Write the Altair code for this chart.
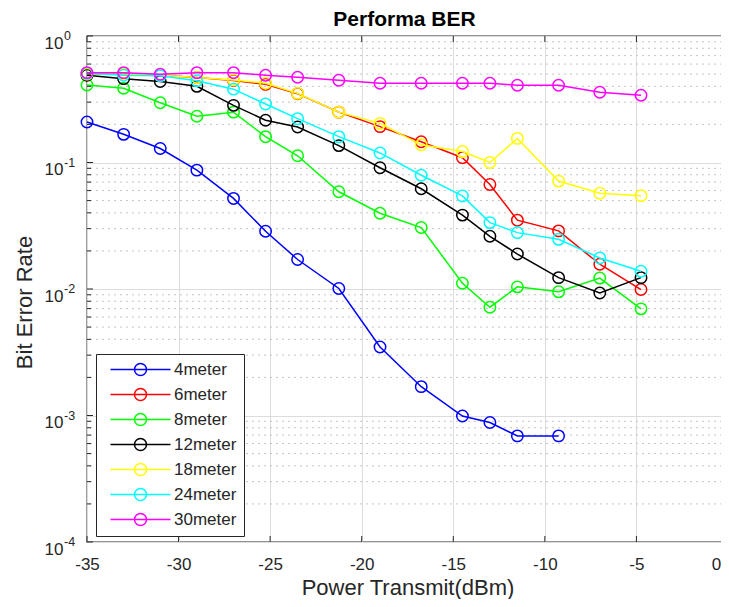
import altair as alt
import pandas as pd

# ---------------- data ----------------
chart_title = "Performa BER"
x_power = [-35, -33, -31, -29, -27, -25.25, -23.5, -21.25, -19, -16.75, -14.5, -13, -11.5, -9.25, -7, -4.75]

ber_4m = [0.209, 0.167, 0.129, 0.087, 0.052, 0.0286, 0.0171, 0.0101, 0.00348, 0.00169, 0.00099, 0.00088, 0.00069, 0.00069]
ber_6m = [0.50, 0.50, 0.49, 0.47, 0.445, 0.415, 0.35, 0.25, 0.192, 0.146, 0.109, 0.067, 0.035, 0.0288, 0.0157, 0.0099]
ber_8m = [0.41, 0.386, 0.297, 0.232, 0.250, 0.160, 0.113, 0.0587, 0.0397, 0.0306, 0.0111, 0.00718, 0.0104, 0.0095, 0.0122, 0.00697]
ber_12m = [0.49, 0.46, 0.437, 0.40, 0.283, 0.216, 0.191, 0.136, 0.0909, 0.062, 0.0384, 0.0261, 0.0189, 0.0123, 0.0093, 0.0123]
ber_18m = [0.50, 0.50, 0.49, 0.47, 0.449, 0.423, 0.352, 0.25, 0.204, 0.138, 0.122, 0.100, 0.155, 0.0713, 0.0571, 0.0547]
ber_24m = [0.507, 0.49, 0.486, 0.443, 0.380, 0.290, 0.222, 0.160, 0.119, 0.0793, 0.0544, 0.0335, 0.0279, 0.0247, 0.0176, 0.0138]
ber_30m = [0.513, 0.513, 0.498, 0.513, 0.513, 0.489, 0.472, 0.447, 0.423, 0.423, 0.423, 0.423, 0.408, 0.408, 0.359, 0.340]

series_names = ["4meter", "6meter", "8meter", "12meter", "18meter", "24meter", "30meter"]
series_values = [ber_4m, ber_6m, ber_8m, ber_12m, ber_18m, ber_24m, ber_30m]
series_colors = ["#0000ff", "#ff0000", "#00ff00", "#000000", "#ffff00", "#00ffff", "#ff00ff"]

x_ticks = [-35, -30, -25, -20, -15, -10, -5, 0]
y_major = [1e-4, 1e-3, 1e-2, 1e-1, 1.0]
y_exponents = ["-4", "-3", "-2", "-1", "0"]
y_minor = [m * 10.0 ** k for k in range(-4, 0) for m in range(2, 10)]

# ---------------- tables ----------------
rows = []
for name, vals in zip(series_names, series_values):
    for xv, yv in zip(x_power, vals):
        rows.append({"series": name, "x": xv, "ber": yv})
df = pd.DataFrame(rows)
df_minor = pd.DataFrame({"ber": y_minor})
df_major = pd.DataFrame({"ber": y_major, "exp": y_exponents})
df_xt = pd.DataFrame({"x": x_ticks})
df_title = pd.DataFrame({"t": [chart_title]})

W, H = 641, 506
FONT = "Liberation Sans"
TXT = "#262626"

xs = alt.Scale(domain=[-35, 0], nice=False, zero=False)
ys = alt.Scale(type="log", domain=[1e-4, 1], nice=False)

x_axis = alt.Axis(values=x_ticks, labelExpr="'' + datum.value", grid=True, gridColor="#dcdcdc",
                  gridWidth=1, ticks=False, domain=False, labelFontSize=17, labelPadding=14,
                  labelOffset={"condition": {"test": "datum.value === 0", "value": -12}, "value": 0},
                  labelColor=TXT, labelFont=FONT, title="Power Transmit(dBm)", titleFontSize=22,
                  titleFont=FONT, titleColor=TXT, titleFontWeight="normal",
                  titleBaseline="middle", titleY=45, titleX=W / 2,
                  labelFlush=False, labelOverlap=False)
y_axis = alt.Axis(values=y_major, labelExpr="'10'", grid=True, gridColor="#dcdcdc",
                  gridWidth=1, ticks=False, domain=False, labelFontSize=17, labelPadding=24,
                  labelOffset=7, labelBaseline="middle",
                  labelColor=TXT, labelFont=FONT, title="Bit Error Rate", titleFontSize=22,
                  titleFont=FONT, titleColor=TXT, titleFontWeight="normal",
                  titleBaseline="middle", titleX=-63, titleY=266, titleAngle=270,
                  labelOverlap=False)

X = alt.X("x:Q", scale=xs, axis=x_axis)
Y = alt.Y("ber:Q", scale=ys, axis=y_axis)

legend_path = "M-5,0H5M-1,0A1,1 0 1,1 1,0A1,1 0 1,1 -1,0"
color = alt.Color("series:N",
                  scale=alt.Scale(domain=series_names, range=series_colors),
                  legend=alt.Legend(title=None, orient="none", legendX=9, legendY=318,
                                    symbolType=legend_path, symbolSize=144, symbolStrokeWidth=1.5,
                                    symbolFillColor="transparent",
                                    labelFontSize=17, labelFont=FONT, labelColor=TXT,
                                    padding=7, strokeColor=TXT, fillColor="white",
                                    rowPadding=6, symbolOffset=29, labelOffset=25,
                                    cornerRadius=0))

# minor dotted grid
minor_grid = alt.Chart(df_minor).mark_rule(color="#c4c4c4", strokeWidth=1, strokeDash=[2, 4]).encode(y=Y)

layers = [minor_grid]
for name in series_names:
    base = alt.Chart(df).transform_filter(alt.datum.series == name)
    layers.append(base.mark_line(strokeWidth=1.5).encode(x=X, y=Y, color=color))
    layers.append(base.mark_point(shape="circle", filled=False, size=130, strokeWidth=1.5, opacity=1)
                  .encode(x=X, y=Y, color=color))

# inward tick marks (MATLAB box style)
tick_col = TXT
layers.append(alt.Chart(df_minor).mark_rule(color=tick_col, strokeWidth=1)
              .encode(y=Y, x=alt.value(0), x2=alt.value(4)))
layers.append(alt.Chart(df_minor).mark_rule(color=tick_col, strokeWidth=1)
              .encode(y=Y, x=alt.value(W - 4), x2=alt.value(W)))
layers.append(alt.Chart(df_major).mark_rule(color=tick_col, strokeWidth=1)
              .encode(y=Y, x=alt.value(0), x2=alt.value(6)))
layers.append(alt.Chart(df_major).mark_rule(color=tick_col, strokeWidth=1)
              .encode(y=Y, x=alt.value(W - 6), x2=alt.value(W)))
layers.append(alt.Chart(df_xt).mark_rule(color=tick_col, strokeWidth=1)
              .encode(x=X, y=alt.value(0), y2=alt.value(6)))
layers.append(alt.Chart(df_xt).mark_rule(color=tick_col, strokeWidth=1)
              .encode(x=X, y=alt.value(H - 6), y2=alt.value(H)))
# exponents of the 10^k tick labels
layers.append(alt.Chart(df_major).mark_text(align="left", baseline="middle", fontSize=12.5,
                                            font=FONT, color=TXT)
              .encode(y=Y, x=alt.value(-23), text="exp:N"))
# chart title
layers.append(alt.Chart(df_title).mark_text(align="center", baseline="alphabetic", fontSize=21,
                                            fontWeight="bold", font=FONT, color="black")
              .encode(x=alt.value(W / 2 - 3), y=alt.value(-10), text="t:N"))

chart = alt.layer(*layers).properties(
    width=W, height=H,
    padding={"left": 79, "top": 28, "right": -7, "bottom": 57},
    autosize="none",
).configure_view(stroke=TXT, strokeWidth=1.3)

chart.save("out.html", embed_options={"renderer": "svg", "actions": False})
